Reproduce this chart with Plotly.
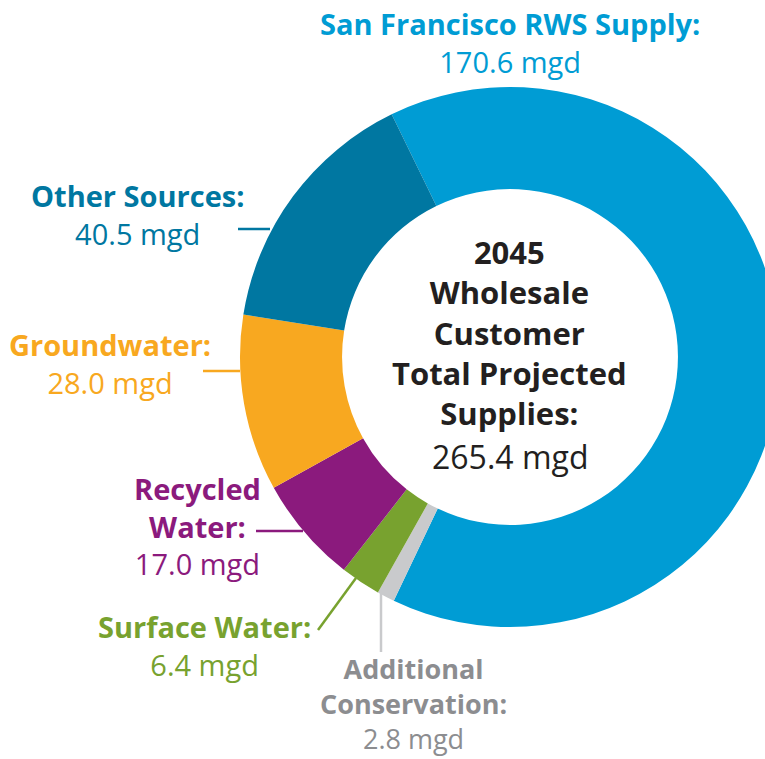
import plotly.graph_objects as go

# ---- data ----
sources = ["San Francisco RWS Supply", "Additional Conservation", "Surface Water",
           "Recycled Water", "Groundwater", "Other Sources"]
supply_mgd = [170.6, 2.8, 6.4, 17.0, 28.0, 40.5]
total_label = "265.4 mgd"
center_title = ["2045", "Wholesale", "Customer", "Total Projected", "Supplies:"]
slice_colors = ["#009CD4", "#C9CACC", "#78A22F", "#8B1A7D", "#F8A820", "#0077A1"]
text_colors = ["#009CD4", "#8C8D90", "#78A22F", "#8B1A7D", "#F8A820", "#0077A1"]

W, H = 800, 759
FONT = "Open Sans"


def px(x):
    return x / W


def py(y):
    return 1 - y / H


cx, cy, R = 510, 357, 270

fig = go.Figure(go.Pie(
    labels=sources,
    values=supply_mgd,
    sort=False,
    direction="clockwise",
    rotation=-26,
    hole=0.622,
    textinfo="none",
    hoverinfo="label+value",
    marker=dict(colors=slice_colors, line=dict(color="white", width=0)),
    domain=dict(x=[px(cx - R), px(cx + R)], y=[py(cy + R), py(cy - R)]),
    showlegend=False,
))

annotations = []


def add_text(text, x, y, color, size=29, yanchor="middle"):
    annotations.append(dict(
        text=text,
        x=px(x), y=py(y), xref="paper", yref="paper",
        xanchor="center", yanchor=yanchor, showarrow=False,
        borderpad=0, align="center",
        font=dict(family=FONT, size=size, color=color),
    ))


def fmt(v):
    return f"{v:.1f} mgd"


# outside labels: (name lines, index, center x, middle y, size)
label_specs = [
    (["San Francisco RWS Supply:"], 0, 510, 42.5, 29),
    (["Other Sources:"], 5, 137, 214.5, 29),
    (["Groundwater:"], 4, 110, 363.5, 29),
    (["Recycled", "Water:"], 3, 197, 526, 29),
    (["Surface Water:"], 2, 205, 645, 29),
]
for lines, idx, x, ym, size in label_specs:
    txt = "<br>".join(f"<b>{ln}</b>" for ln in lines) + "<br>" + fmt(supply_mgd[idx])
    add_text(txt, x, ym, text_colors[idx], size=size)

# bottom label anchored to the bottom edge
cons_txt = "<b>Additional</b><br><b>Conservation:</b><br>" + fmt(supply_mgd[1])
add_text(cons_txt, 413, 758, text_colors[1], size=27, yanchor="bottom")

# center text
add_text("<br>".join(f"<b>{ln}</b>" for ln in center_title), cx, 332, "#231F20", size=31)
add_text(total_label, cx, 456, "#231F20", size=32)

# leader lines
leaders = [
    (5, 238, 229, 270, 229),
    (4, 203, 371, 240, 371),
    (3, 256, 531, 303, 531),
    (2, 318, 630, 356, 578),
    (1, 381, 592, 381, 652),
]
shapes = []
for idx, x0, y0, x1, y1 in leaders:
    shapes.append(dict(type="line", xref="paper", yref="paper",
                       x0=px(x0), y0=py(y0), x1=px(x1), y1=py(y1),
                       line=dict(color=slice_colors[idx], width=2.5), layer="below"))

fig.update_layout(
    width=W, height=H,
    margin=dict(l=0, r=0, t=0, b=0),
    paper_bgcolor="white", plot_bgcolor="white",
    annotations=annotations, shapes=shapes,
)

fig.write_html(
    "out.html",
    config={"displayModeBar": False},
    post_script="document.body.style.margin='0';document.body.style.overflow='hidden';",
)
